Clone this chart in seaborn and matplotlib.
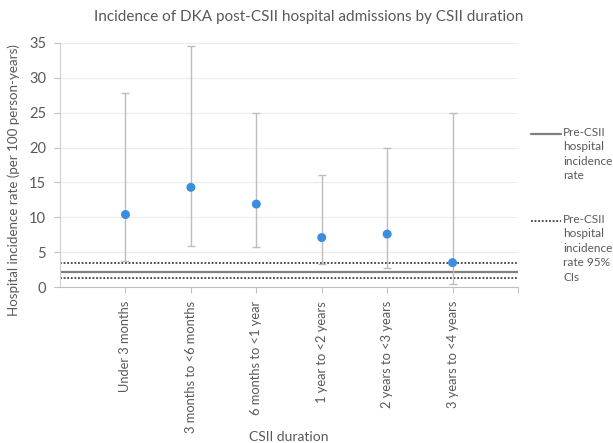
import matplotlib
matplotlib.use("Agg")
import matplotlib.pyplot as plt
from matplotlib.lines import Line2D
import seaborn as sns
import pandas as pd

# Incidence of DKA hospital admissions after CSII start, by CSII duration
durations = [
    "Under 3 months",
    "3 months to <6 months",
    "6 months to <1 year",
    "1 year to <2 years",
    "2 years to <3 years",
    "3 years to <4 years",
]
rates = [10.4, 14.3, 11.9, 7.1, 7.6, 3.5]
ci_lower = [3.8, 5.9, 5.7, 3.3, 2.8, 0.5]
ci_upper = [27.8, 34.6, 25.0, 16.0, 20.0, 24.9]

# Pre-CSII reference rate and its 95% CI
pre_rate = 2.15
pre_ci = [1.3, 3.5]

y_ticks = [0, 5, 10, 15, 20, 25, 30, 35]

sns.set_theme(style="white")
plt.rcParams["font.family"] = ["Lato", "DejaVu Sans"]

grey_text = "#595959"
df = pd.DataFrame({
    "pos": range(1, len(durations) + 1),
    "duration": durations,
    "rate": rates,
    "lo": ci_lower,
    "hi": ci_upper,
})

fig = plt.figure(figsize=(6.13, 4.43), dpi=100)
ax = fig.add_axes([0.098, 0.352, 0.747, 0.551])

# Gridlines
for t in y_ticks[1:]:
    ax.axhline(t, color="#ececec", lw=0.8, zorder=0)

# Reference lines
ax.axhline(pre_rate, color="#7f7f7f", lw=1.6, zorder=1)
for v in pre_ci:
    ax.axhline(v, color="#404040", lw=1.3, ls=(0, (1, 1)), zorder=1)

# 95% CIs of each duration
ax.errorbar(df["pos"], df["rate"],
            yerr=[df["rate"] - df["lo"], df["hi"] - df["rate"]],
            fmt="none", ecolor="#bdbdbd", elinewidth=1.0, capsize=3,
            capthick=1.0, zorder=2)

sns.scatterplot(data=df, x="pos", y="rate", ax=ax, color="#3b8ede", s=42,
                edgecolor="none", zorder=3, legend=False)

ax.set_xlim(0, 7)
ax.set_ylim(0, 35)
ax.set_yticks(y_ticks)
ax.set_xticks(list(df["pos"]) + [7])
ax.set_xticklabels(durations + [""], rotation=90)

ax.tick_params(axis="both", colors="#bfbfbf", length=4, width=0.8,
               labelcolor=grey_text)
ax.tick_params(axis="x", direction="out", pad=6, labelsize=9.3)
ax.tick_params(axis="y", direction="out", pad=6, labelsize=10.5)
ax.tick_params(bottom=True, left=True)

for side in ["top", "right"]:
    ax.spines[side].set_visible(False)
ax.spines["left"].set_color("#d0d0d0")
ax.spines["bottom"].set_color("#bfbfbf")
ax.spines["left"].set_linewidth(0.8)
ax.spines["bottom"].set_linewidth(0.8)

ax.set_xlabel("CSII duration", color=grey_text, fontsize=10)
ax.xaxis.set_label_coords(0.5, -0.59)
ax.set_ylabel("Hospital incidence rate (per 100 person-years)",
              color=grey_text, fontsize=9.6)
ax.yaxis.set_label_coords(-0.088, 0.44)
fig.text(0.503, 0.962, "Incidence of DKA post-CSII hospital admissions by CSII duration",
         ha="center", va="center", color=grey_text, fontsize=11)

# Legend for the reference lines
legend_items = [
    ("Pre-CSII\nhospital\nincidence\nrate", dict(color="#7f7f7f", lw=1.6), 0.698),
    ("Pre-CSII\nhospital\nincidence\nrate 95%\nCIs", dict(color="#404040", lw=1.3, ls=(0, (1, 1))), 0.501),
]
for label, style, ypos in legend_items:
    fig.add_artist(Line2D([0.866, 0.915], [ypos, ypos], transform=fig.transFigure, **style))
    fig.text(0.919, ypos + 0.016, label, ha="left", va="top", color=grey_text,
             fontsize=8.5, linespacing=1.38)

fig.savefig("out.png", dpi=100)
